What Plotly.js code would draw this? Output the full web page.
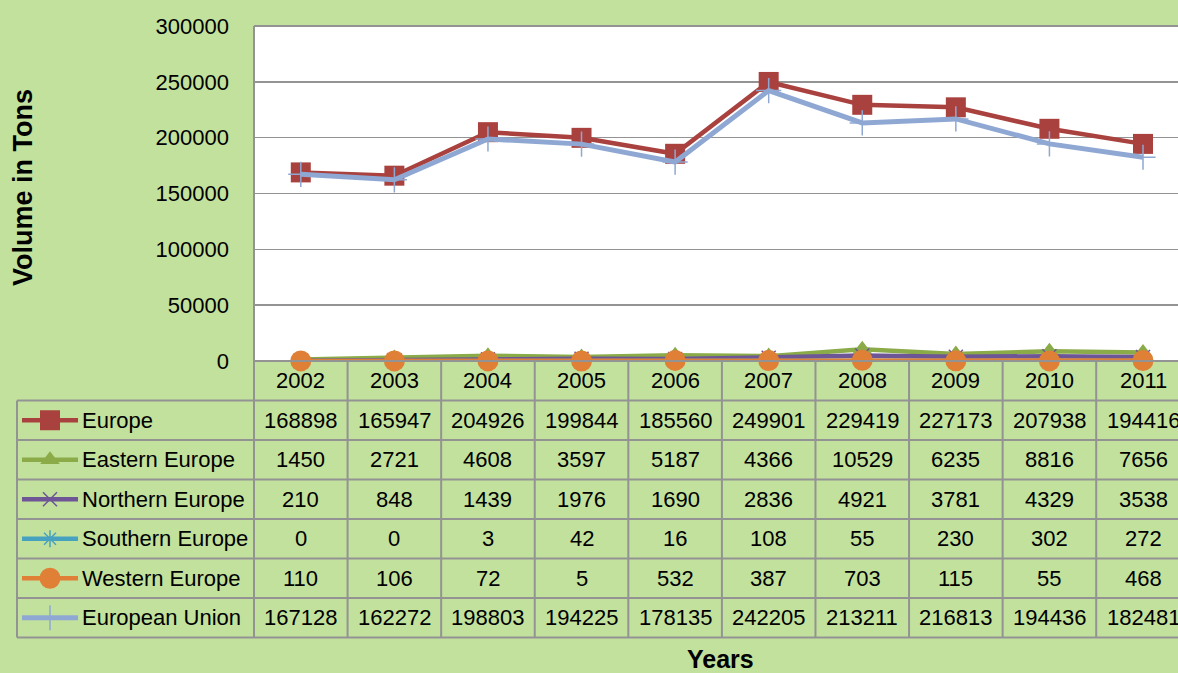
<!DOCTYPE html>
<html><head><meta charset="utf-8">
<script src="https://cdn.plot.ly/plotly-3.0.1.min.js"></script>
<style>html,body{margin:0;padding:0;background:#c2e19c}</style>
</head><body><div id="chart" style="width:1178px;height:673px"></div>
<script>
const years = ['2002','2003','2004','2005','2006','2007','2008','2009','2010','2011'];
const seriesNames = ['Europe','Eastern Europe','Northern Europe','Southern Europe','Western Europe','European Union'];
const europe   = [168898,165947,204926,199844,185560,249901,229419,227173,207938,194416];
const eastern  = [1450,2721,4608,3597,5187,4366,10529,6235,8816,7656];
const northern = [210,848,1439,1976,1690,2836,4921,3781,4329,3538];
const southern = [0,0,3,42,16,108,55,230,302,272];
const western  = [110,106,72,5,532,387,703,115,55,468];
const eu       = [167128,162272,198803,194225,178135,242205,213211,216813,194436,182481];
const seriesValues = [europe, eastern, northern, southern, western, eu];
const yTicks = [0,50000,100000,150000,200000,250000,300000];

const colors  = ['#a9423f','#8aab47','#6e5596','#47a2bf','#e07f36','#8fa8d3'];
const symbols = ['square','triangle-up','x-thin-open','asterisk-open','circle','cross-thin-open'];
const msizes  = [20,17,14,14,21,18];
const lwidths = [4.5,4.5,4.5,4.5,4.5,5];

const W = 1178, H = 673;
const PL = 254, PT = 26, PB = 361;
const px = v => v / W;
const py = v => 1 - v / H;
const rowH = 39.5, headerTop = 361, firstRowTop = 400.5;
const font = 'Liberation Sans, Arial, sans-serif';
const grid = '#939393';
const bg = '#c2e19c';

const markerOf = i => ({symbol: symbols[i], size: msizes[i], color: colors[i], opacity: 1,
  line: {color: colors[i], width: (symbols[i].includes('open') ? 1.5 : 0)}});

const traces = [];
seriesNames.forEach((n, i) => {
  traces.push({
    x: years.map((_, k) => k), y: seriesValues[i], name: n, type: 'scatter', mode: 'lines+markers',
    line: {color: colors[i], width: lwidths[i]}, marker: markerOf(i),
    cliponaxis: false, showlegend: false, xaxis: 'x', yaxis: 'y'
  });
});
// legend keys in the data table
seriesNames.forEach((n, i) => {
  const cy = firstRowTop + rowH * (i + 0.5);
  traces.push({
    x: [22, 78], y: [cy, cy], type: 'scatter', mode: 'lines',
    line: {color: colors[i], width: lwidths[i]},
    cliponaxis: false, showlegend: false, xaxis: 'x2', yaxis: 'y2', hoverinfo: 'skip'
  });
  traces.push({
    x: [50], y: [cy], type: 'scatter', mode: 'markers', marker: markerOf(i),
    cliponaxis: false, showlegend: false, xaxis: 'x2', yaxis: 'y2', hoverinfo: 'skip'
  });
});

const shapes = [];
const annotations = [];
const catRight = 9.374;
// white plot area
shapes.push({type:'rect', xref:'paper', yref:'paper', x0:px(PL), x1:1, y0:py(PB), y1:py(PT), fillcolor:'#ffffff', line:{width:0}, layer:'below'});
// plot top border
shapes.push({type:'line', xref:'paper', yref:'paper', x0:px(PL), x1:1, y0:py(PT), y1:py(PT), line:{color:grid, width:2}});
// horizontal table lines
shapes.push({type:'line', xref:'paper', yref:'paper', x0:px(PL), x1:1, y0:py(headerTop), y1:py(headerTop), line:{color:grid, width:2}});
for (let r = 0; r <= seriesNames.length; r++) {
  const yy = firstRowTop + rowH * r;
  shapes.push({type:'line', xref:'paper', yref:'paper', x0:px(17), x1:1, y0:py(yy), y1:py(yy), line:{color:grid, width:2}});
}
const tableBottom = firstRowTop + rowH * seriesNames.length;
// vertical lines
shapes.push({type:'line', xref:'paper', yref:'paper', x0:px(17), x1:px(17), y0:py(firstRowTop), y1:py(tableBottom), line:{color:grid, width:2}});
shapes.push({type:'line', xref:'paper', yref:'paper', x0:px(PL), x1:px(PL), y0:py(PT), y1:py(tableBottom), line:{color:grid, width:2}});
for (let k = 1; k < years.length; k++) {
  shapes.push({type:'line', xref:'x', yref:'paper', x0:k-0.5, x1:k-0.5, y0:py(headerTop), y1:py(tableBottom), line:{color:grid, width:2}});
}
// header years
years.forEach((yr, k) => {
  annotations.push({xref:'x', yref:'paper', x:k, y:py(headerTop + 19.5), text:yr, showarrow:false,
    xanchor:'center', yanchor:'middle', font:{family:font, size:22, color:'#000'}});
});
// rows
seriesNames.forEach((n, i) => {
  const cy = py(firstRowTop + rowH * (i + 0.5));
  annotations.push({xref:'paper', yref:'paper', x:px(80), y:cy, text:n, showarrow:false,
    xanchor:'left', yanchor:'middle', font:{family:font, size:22, color:'#000'}});
  seriesValues[i].forEach((v, k) => {
    annotations.push({xref:'x', yref:'paper', x:k, y:cy, text:String(v), showarrow:false,
      xanchor:'center', yanchor:'middle', font:{family:font, size:22, color:'#000'}});
  });
});
// titles
annotations.push({xref:'paper', yref:'paper', x:px(23), y:py(188), text:'<b>Volume in Tons</b>', textangle:-90,
  showarrow:false, xanchor:'center', yanchor:'middle', font:{family:font, size:27, color:'#000'}});
annotations.push({xref:'paper', yref:'paper', x:px(721), y:py(659), text:'<b>Years</b>',
  showarrow:false, xanchor:'center', yanchor:'middle', font:{family:font, size:25, color:'#000'}});

const layout = {
  width: W, height: H,
  margin: {l:0, r:0, t:0, b:0, pad:0},
  paper_bgcolor: bg, plot_bgcolor: 'rgba(0,0,0,0)',
  showlegend: false, hovermode: false,
  xaxis: {domain:[px(PL), 1], range:[-0.5, catRight], showgrid:false, zeroline:false,
          showticklabels:false, ticks:'', showline:false, fixedrange:true},
  yaxis: {domain:[py(PB), py(PT)], range:[0, 300000], tickvals:yTicks, ticktext:yTicks.map(String),
          showgrid:true, gridcolor:grid, gridwidth:1.5, zeroline:false, showline:false,
          ticks:'', ticklabelstandoff:24, tickfont:{family:font, size:22, color:'#000'}, fixedrange:true},
  xaxis2: {domain:[0, px(PL)], range:[0, PL], visible:false, anchor:'y2', fixedrange:true},
  yaxis2: {domain:[0, 1], range:[H, 0], visible:false, anchor:'x2', fixedrange:true},
  shapes: shapes, annotations: annotations
};
Plotly.newPlot('chart', traces, layout, {displayModeBar:false, staticPlot:true});
</script></body></html>
